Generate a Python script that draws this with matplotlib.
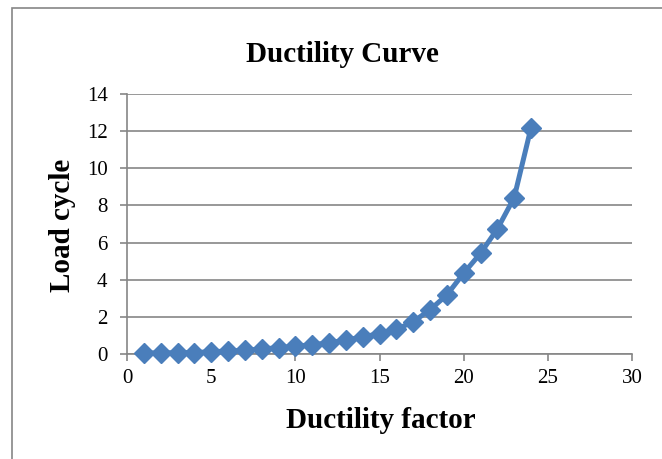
import matplotlib
matplotlib.use("Agg")
import matplotlib.pyplot as plt
from matplotlib.patches import Rectangle

ductility_factor = [1, 2, 3, 4, 5, 6, 7, 8, 9, 10, 11, 12, 13, 14, 15, 16, 17, 18, 19, 20, 21, 22, 23, 24]
load_cycle = [0.05, 0.06, 0.07, 0.08, 0.12, 0.16, 0.2, 0.27, 0.34, 0.42, 0.5, 0.6, 0.75, 0.92, 1.1, 1.32, 1.74, 2.38, 3.18, 4.35, 5.42, 6.73, 8.42, 12.18]
x_ticks = [0, 5, 10, 15, 20, 25, 30]
y_ticks = [0, 2, 4, 6, 8, 10, 12, 14]

W, H = 662, 459
fig = plt.figure(figsize=(W / 100, H / 100), dpi=100)
fig.patch.set_facecolor("white")
plt.rcParams['font.family'] = ['Liberation Serif', 'DejaVu Serif']

# outer chart border
fig.patches.append(Rectangle((11.5 / W, -0.1), 1.2, 1 - 7.5 / H + 0.1, transform=fig.transFigure,
                             fill=False, edgecolor="#868686", linewidth=1.2, zorder=0))
# text above the border, clipped by the image edge as in the reference
fig.text(300 / W, 1 - 4 / H, "R² = 0.999", ha="center", va="bottom", fontsize=13,
         fontweight="bold", color="black")

ax = fig.add_axes([127 / W, (H - 354) / H, (632 - 127) / W, (354 - 94) / H])
ax.set_xlim(0, 30)
ax.set_ylim(0, 14)
ax.set_xticks(x_ticks)
ax.set_yticks(y_ticks)
ax.yaxis.grid(True, color="#868686", linewidth=1.2)
ax.set_axisbelow(True)
for s in ["top", "right"]:
    ax.spines[s].set_visible(False)
for s in ["left", "bottom"]:
    ax.spines[s].set_color("#868686")
    ax.spines[s].set_linewidth(1.2)
ax.tick_params(axis="both", colors="#868686", labelcolor="black", labelsize=15, length=5, width=1.2)
ax.tick_params(axis="x", pad=5.5)
ax.tick_params(axis="y", pad=9)

ax.plot(ductility_factor, load_cycle, color="#4A7EBB", linewidth=3.6, marker="D",
        markersize=10.5, markerfacecolor="#4A7EBB", markeredgecolor="#4A7EBB", clip_on=False, zorder=3)

fig.text(342 / W, 1 - 62 / H, "Ductility Curve", ha="center", va="baseline",
         fontsize=21, fontweight="bold")
fig.text(381 / W, 1 - 428 / H, "Ductility factor", ha="center", va="baseline",
         fontsize=21, fontweight="bold")
fig.text(62 / W, 1 - 225 / H, "Load cycle", ha="center", va="center", rotation=90,
         fontsize=21, fontweight="bold")

fig.savefig("out.png", dpi=100)
